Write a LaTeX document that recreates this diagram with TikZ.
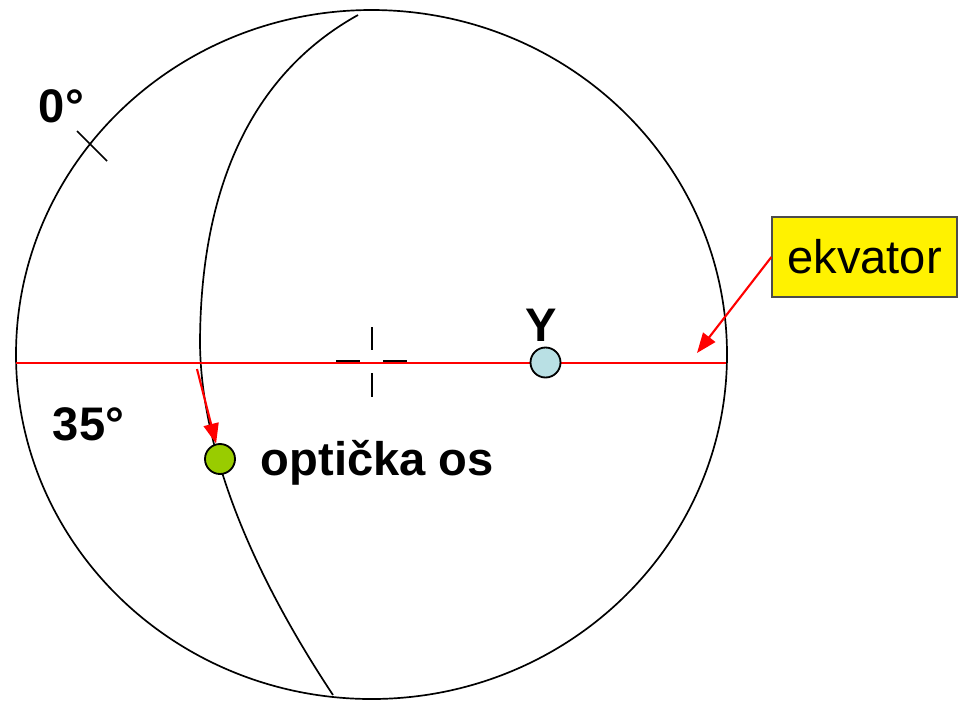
\documentclass[tikz,border=0pt]{standalone}
\usepackage{fontspec}
\setmainfont{Liberation Sans}
\usepackage{xcolor}
\usetikzlibrary{arrows.meta}
\usetikzlibrary{positioning}
\definecolor{osgreen}{RGB}{153,204,0}
\definecolor{ylight}{RGB}{185,224,228}
\tikzstyle{dot}=[circle, draw, line width=1.3pt, minimum size=0.75cm, inner sep=0pt]
\tikzstyle{lbl}=[font=\bfseries\fontsize{33.5}{40}\selectfont, inner sep=0pt]
\tikzstyle{redarrow}=[draw=red, line width=1.5pt, -{Triangle[length=0.5cm, width=0.38cm]}]

\begin{document}
\begin{tikzpicture}[x=0.025cm, y=-0.025cm]

\tikzset{every path/.style={line width=1.2pt}}
\useasboundingbox (0,0) rectangle (959,700);

% Sphere outline
\draw (371.5,354.5) ellipse [x radius=355.5, y radius=344.5];

% Meridian
\draw (358,15) .. controls (250,75) and (200,190) .. (200,345)
               .. controls (202,470) and (270,600) .. (333,695);

% Equator
\draw[red, line width=1pt] (16,363) -- (726,363);

% Centre mark
\draw[line width=0.8pt] (372,327) -- (372,350);
\draw[line width=0.8pt] (372,373) -- (372,397);
\draw[line width=1.6pt] (336,361) -- (360,361);
\draw[line width=1.6pt] (383,361) -- (407,361);

% 0 degree tick
\draw (77,131) -- (107,161);

% Points
\node[dot, fill=osgreen] (osa) at (220,459) {};
\node[dot, fill=ylight] (ypt) at (545.5,362.5) {};

% Labels
\node[lbl, anchor=south] (ylbl) at (541,342) {Y};
\node[lbl, anchor=base west] (osalbl) at (260,475) {optička os};
\node[lbl, anchor=base west] (deg35) at (52,440) {35°};
\node[lbl, anchor=base west] (deg0) at (38,122) {0°};

% Equator label
\node[draw=black!70, line width=0.8pt, fill=yellow, minimum width=4.625cm, minimum height=2cm,
      font=\fontsize{33.5}{40}\selectfont] (ekv) at (864.5,257) {ekvator};

% Arrows
\coordinate (ekvend) at (697,353);
\coordinate (osastart) at (197,369);
\draw[redarrow] (ekv.west) -- (ekvend);
\draw[redarrow] (osastart) -- (osa);

\end{tikzpicture}
\end{document}
